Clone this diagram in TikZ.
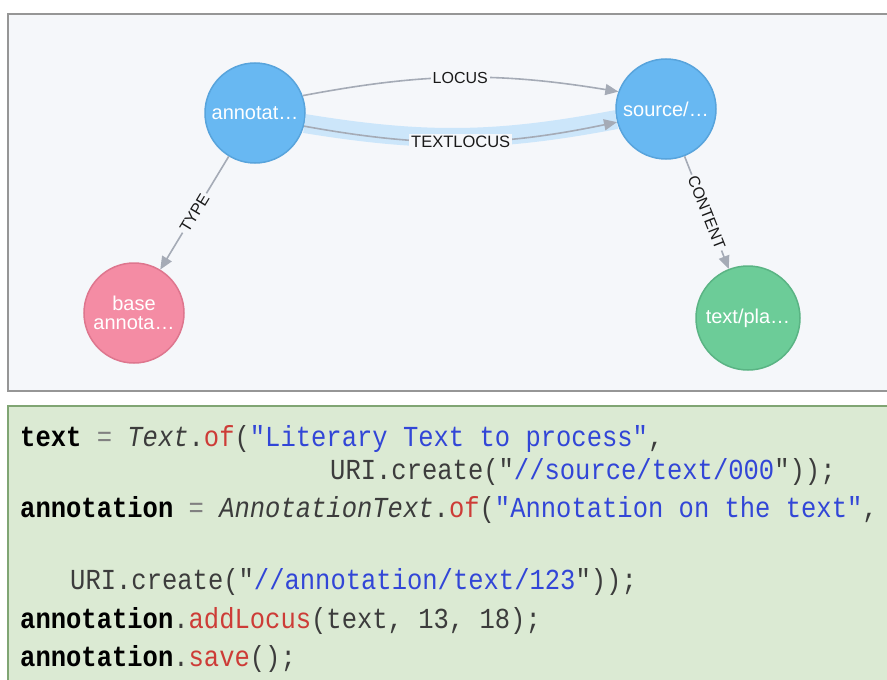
\documentclass[tikz,border=0pt]{standalone}
\usepackage{fontspec}
\setmainfont{Liberation Sans}
\setmonofont{Liberation Mono}[FakeStretch=0.88]
\usepackage{xcolor}
\usepackage{tikz}
\usetikzlibrary{arrows.meta}
\definecolor{panelBg}{RGB}{245,247,250}
\definecolor{panelLine}{RGB}{150,150,150}
\definecolor{codeBg}{RGB}{219,234,211}
\definecolor{codeLine}{RGB}{128,165,115}
\definecolor{nodeBlue}{RGB}{104,184,242}
\definecolor{nodeBlueLine}{RGB}{88,164,220}
\definecolor{nodePink}{RGB}{244,140,164}
\definecolor{nodePinkLine}{RGB}{222,118,142}
\definecolor{nodeGreen}{RGB}{108,204,152}
\definecolor{nodeGreenLine}{RGB}{90,180,132}
\definecolor{relGray}{RGB}{165,171,182}
\definecolor{selBlue}{RGB}{204,230,250}
\definecolor{codeRed}{RGB}{205,60,55}
\definecolor{codeBlue}{RGB}{50,70,215}
\definecolor{codeText}{RGB}{60,60,60}
\newcommand{\kw}[1]{\textbf{\color{black}#1}}
\newcommand{\fn}[1]{\textcolor{codeRed}{#1}}
\newcommand{\strlit}[1]{\textcolor{codeBlue}{#1}}
\newcommand{\op}[1]{\textcolor{gray}{#1}}

\begin{document}
\begin{tikzpicture}[x=1pt, y=-1pt,
		graphnode/.style={circle, minimum size=100pt, inner sep=0pt, line width=1.5pt,
			font=\fontsize{20}{22}\selectfont, text=white, align=center},
		rel/.style={draw=relGray, line width=1.6pt, -{Triangle[length=13pt,width=11pt]}},
		rellbl/.style={fill=panelBg, inner sep=2pt, text=black!90,
			font=\fontsize{16}{18}\selectfont},
		codeline/.style={anchor=base west, inner sep=0pt, text=codeText,
			font=\ttfamily\fontsize{29}{31}\selectfont}]
	\useasboundingbox (0,0) rectangle (887,680);
	\clip (0,0) rectangle (887,680);
	\draw[panelLine, line width=1.5pt, fill=panelBg] (8,14) rectangle (900,391);
	\draw[codeLine, line width=1.5pt, fill=codeBg] (8,406) rectangle (900,700);
	
	\node[graphnode, fill=nodeBlue, draw=nodeBlueLine] (annot) at (255,113) {annotat…};
	\node[graphnode, fill=nodeBlue, draw=nodeBlueLine] (source) at (666,109) {source/…};
	\node[graphnode, fill=nodePink, draw=nodePinkLine] (base) at (134,313) {base\\[-3pt]annota…};
	\node[graphnode, fill=nodeGreen, draw=nodeGreenLine, minimum size=104pt] (plain) at (748,318) {text/pla…};
	
	\draw[selBlue, line width=19pt] (annot.-12) to[bend right=10] (source.-168);
	\draw[rel] (annot.20) to[bend left=10] node[rellbl] {LOCUS} (source.160);
	\draw[rel] (annot.-15) to[bend right=11] node[rellbl, font=\fontsize{16.5}{18}\selectfont] {TEXTLOCUS} (source.-165);
	\draw[rel] (annot) -- node[rellbl, sloped] {TYPE} (base);
	\draw[rel] (source) -- node[rellbl, sloped] {CONTENT} (plain);
	
	\node[codeline] (l1) at (20,446) {\kw{text} \op{=} \textit{Text}.\fn{of}(\strlit{"Literary Text to process"},};
	\node[codeline] (l2) at (330,479) {URI.create("\strlit{//source/text/000}"));};
	\node[codeline] (l3) at (20,517) {\kw{annotation} \op{=} \textit{AnnotationText}.\fn{of}(\strlit{"Annotation on the text"},};
	\node[codeline] (l4) at (70,589) {URI.create("\strlit{//annotation/text/123}"));};
	\node[codeline] (l5) at (20,628) {\kw{annotation}.\fn{addLocus}(text, 13, 18);};
	\node[codeline] (l6) at (20,666) {\kw{annotation}.\fn{save}();};
\end{tikzpicture}
\end{document}
